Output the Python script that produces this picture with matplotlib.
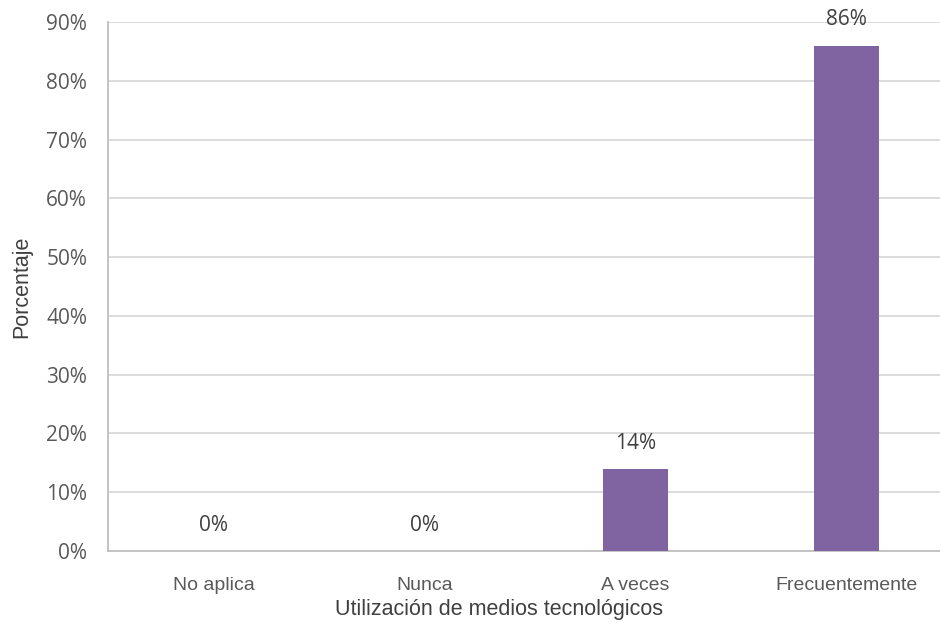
import matplotlib
matplotlib.use("Agg")
import matplotlib.pyplot as plt
from matplotlib.ticker import FuncFormatter

categories = ["No aplica", "Nunca", "A veces", "Frecuentemente"]
values = [0, 0, 14, 86]
yticks = [0, 10, 20, 30, 40, 50, 60, 70, 80, 90]

W, H = 940, 631
fig = plt.figure(figsize=(W / 100, H / 100), dpi=100)
# plot area in pixels: left 108, right 952, top 22, bottom 551
ax = fig.add_axes([108 / W, 1 - 551 / H, (952 - 108) / W, (551 - 22) / H])

x = list(range(len(categories)))
ax.bar(x, values, width=0.31, color="#8064A2", zorder=3)

for xi, v in zip(x, values):
    ax.annotate(f"{v}%", (xi, v), xytext=(0, 18.5), textcoords="offset points",
                ha="center", va="center", fontsize=15, color="#404040",
                family="Open Sans")

ax.set_ylim(0, 90)
ax.set_xlim(-0.5, len(categories) - 0.5)
ax.set_yticks(yticks)
ax.yaxis.set_major_formatter(FuncFormatter(lambda v, p: f"{v:.0f}%"))
ax.set_xticks(x)
ax.set_xticklabels(categories, family="Liberation Sans", fontsize=14, color="#595959")
for lbl in ax.get_yticklabels():
    lbl.set_family("Open Sans")
    lbl.set_fontsize(15)
    lbl.set_color("#595959")

ax.grid(axis="y", color="#d9d9d9", linewidth=1.3, zorder=0)
ax.tick_params(axis="both", length=0)
ax.tick_params(axis="x", pad=19)
ax.tick_params(axis="y", pad=15)

for s in ["top", "right"]:
    ax.spines[s].set_visible(False)
for s in ["left", "bottom"]:
    ax.spines[s].set_color("#bfbfbf")
    ax.spines[s].set_linewidth(1.3)

fig.text(499 / W, 1 - 610 / H, "Utilización de medios tecnológicos",
         family="Liberation Sans", fontsize=15.5, color="#404040",
         ha="center", va="center")
fig.text(22 / W, 1 - 287 / H, "Porcentaje", family="Liberation Sans",
         fontsize=15.5, color="#404040", rotation=90, ha="center", va="center")

fig.savefig("out.png", dpi=100)
